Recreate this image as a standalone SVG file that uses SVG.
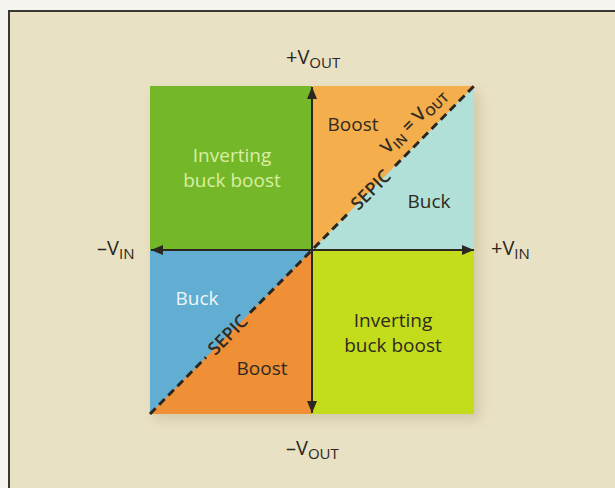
<svg xmlns="http://www.w3.org/2000/svg" width="615" height="488" viewBox="0 0 615 488">
  <defs>
    <style>
      .lbl { font-family: "Open Sans", "Noto Sans", "DejaVu Sans", sans-serif; font-size: 19px; }
      .ax { font-family: "Open Sans", "Noto Sans", "DejaVu Sans", sans-serif; font-size: 20px; fill: #2a2620; }
      .sub { font-size: 15px; }
      .dark { fill: #2f2a22; }
      .rot { font-size: 18px; font-weight: 600; }
      .axis { stroke: #2a2620; stroke-width: 2; fill: none; }
      .diag { stroke: #2a2620; stroke-width: 3; stroke-dasharray: 8 5; fill: none; }
    </style>
    <marker id="arr" viewBox="0 0 12 10" refX="12" refY="5" markerWidth="12" markerHeight="10" markerUnits="userSpaceOnUse" orient="auto-start-reverse">
      <path d="M0,0 L12,5 L0,10 z" fill="#2a2620"/>
    </marker>
    <filter id="shadow" x="-10%" y="-10%" width="120%" height="120%">
      <feGaussianBlur stdDeviation="6"/>
    </filter>
  </defs>

  <!-- page -->
  <rect x="0" y="0" width="615" height="488" fill="#f6f4ee"/>
  <rect x="9" y="11" width="620" height="490" fill="#e9e1c3" stroke="#3a3833" stroke-width="2"/>
  <rect x="154" y="92" width="326" height="328" fill="#b8ad8a" opacity="0.45" filter="url(#shadow)"/>

  <g id="q-top-left">
    <rect x="150" y="86" width="162" height="164" fill="#74b82a"/>
    <text class="lbl" x="232" y="162" text-anchor="middle" fill="#d9eea2">Inverting</text>
    <text class="lbl" x="232" y="187" text-anchor="middle" fill="#d9eea2">buck boost</text>
  </g>

  <g id="q-top-right">
    <rect x="312" y="86" width="162" height="164" fill="#b1e0d8"/>
    <polygon points="312,86 474,86 312,250" fill="#f5ae4c"/>
    <text class="lbl dark" x="353" y="131" text-anchor="middle">Boost</text>
    <text class="lbl dark" x="429" y="208" text-anchor="middle">Buck</text>
    <text class="lbl dark rot" transform="translate(413,121) rotate(-45)" text-anchor="middle" y="6">V<tspan style="font-size:13px" dy="4">IN</tspan><tspan dy="-4"> = V</tspan><tspan style="font-size:13px" dy="4">OUT</tspan></text>
    <text class="lbl dark rot" transform="translate(371,190) rotate(-45)" text-anchor="middle" y="6">SEPIC</text>
  </g>

  <g id="q-bottom-left">
    <rect x="150" y="250" width="162" height="164" fill="#ef8f36"/>
    <polygon points="150,250 312,250 150,414" fill="#62aed2"/>
    <text class="lbl" x="197" y="305" text-anchor="middle" fill="#eef6f8">Buck</text>
    <text class="lbl dark" x="262" y="375" text-anchor="middle">Boost</text>
    <text class="lbl dark rot" transform="translate(228,335) rotate(-45)" text-anchor="middle" y="6">SEPIC</text>
  </g>

  <g id="q-bottom-right">
    <rect x="312" y="250" width="162" height="164" fill="#c3dc1c"/>
    <text class="lbl dark" x="393" y="327" text-anchor="middle">Inverting</text>
    <text class="lbl dark" x="393" y="352" text-anchor="middle">buck boost</text>
  </g>

  <g id="connectors">
    <line class="axis" x1="151" y1="250" x2="474" y2="250" marker-start="url(#arr)" marker-end="url(#arr)"/>
    <line class="axis" x1="312" y1="87" x2="312" y2="413" marker-start="url(#arr)" marker-end="url(#arr)"/>
    <line class="diag" x1="150" y1="414" x2="206" y2="357.3"/>
    <line class="diag" x1="250" y1="312.8" x2="348" y2="213.5"/>
    <line class="diag" x1="395" y1="166" x2="474" y2="86"/>
  </g>

  <g id="axis-labels">
    <text class="ax" x="286" y="64">+V<tspan class="sub" dy="4">OUT</tspan></text>
    <text class="ax" x="286" y="455">–V<tspan class="sub" dy="4">OUT</tspan></text>
    <text class="ax" x="97" y="255">–V<tspan class="sub" dy="4">IN</tspan></text>
    <text class="ax" x="491" y="255">+V<tspan class="sub" dy="4">IN</tspan></text>
  </g>
</svg>
